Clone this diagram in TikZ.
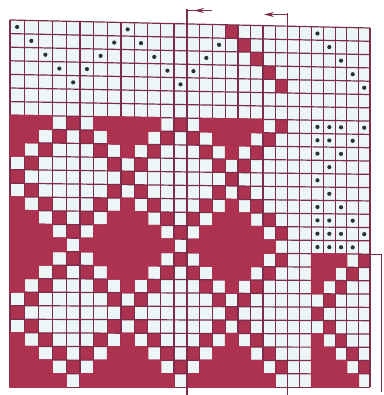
\documentclass[tikz,border=0pt]{standalone}
\usetikzlibrary{arrows.meta}
\definecolor{cred}{RGB}{172,50,80}
\definecolor{cline}{RGB}{125,45,75}
\definecolor{cwhite}{RGB}{236,246,246}
\definecolor{cdot}{RGB}{45,50,55}
\tikzset{
  ringcell/.style={fill=cred},
  solidcell/.style={fill=cred, draw=cred, line width=1.2pt},
  gridline/.style={draw=cline, line width=1.2pt},
  stitchdot/.style={fill=cdot},
  repeatline/.style={draw=cline, line width=1.2pt},
}
\newcommand\cellat[3]{\path[#3] ({gx(#1)},{gy(#2,#1)}) -- ({gx(#1+1)},{gy(#2,#1+1)}) -- ({gx(#1+1)},{gy(#2+1,#1+1)}) -- ({gx(#1)},{gy(#2+1,#1)}) -- cycle;}
\begin{document}
\begin{tikzpicture}[x=1pt,y=-1pt,
  declare function={gx(\k)=10+14.27*(\k)-0.0505*(\k)*(\k);
                    gy(\r,\k)=20+13.6*(\r)+8*(gx(\k)-10)/360*(27-(\r))/27;}]
\useasboundingbox (0,0) rectangle (383,395);
\fill[white] (0,0) rectangle (383,395);
% white grid area
\fill[cwhite] ({gx(0)},{gy(0,0)}) -- ({gx(28)},{gy(0,28)}) -- ({gx(28)},{gy(27,28)}) -- ({gx(0)},{gy(27,0)}) -- cycle;
% ring cells, main area
\foreach \r in {7,...,26}{
  \foreach \c in {0,...,20}{
    \pgfmathtruncatemacro{\u}{mod(\c+4,8)}
    \pgfmathtruncatemacro{\v}{mod(\r+9,10)}
    \pgfmathtruncatemacro{\d}{min(\u,8-\u)+min(\v,10-\v)}
    \ifnum\d=4 \cellat{\c}{\r}{ringcell}\fi
  }
}
% ring cells, right block
\foreach \r in {17,...,26}{
  \foreach \c in {23,...,27}{
    \pgfmathtruncatemacro{\u}{mod(\c+5,8)}
    \pgfmathtruncatemacro{\v}{mod(\r+9,10)}
    \pgfmathtruncatemacro{\d}{min(\u,8-\u)+min(\v,10-\v)}
    \ifnum\d=4 \cellat{\c}{\r}{ringcell}\fi
  }
}
% red diagonal at top
\foreach \c/\r in {16/0,17/1,18/2,19/3,20/4}{\cellat{\c}{\r}{ringcell}}
% grid lines
\foreach \r in {0,...,27}{\draw[gridline] ({gx(0)},{gy(\r,0)}) -- ({gx(28)},{gy(\r,28)});}
\foreach \k in {0,...,28}{\draw[gridline] ({gx(\k)},{gy(0,\k)}) -- ({gx(\k)},{gy(27,\k)});}
% solid cells
\foreach \r in {7,...,26}{
  \foreach \c in {0,...,20}{
    \pgfmathtruncatemacro{\u}{mod(\c+4,8)}
    \pgfmathtruncatemacro{\v}{mod(\r+9,10)}
    \pgfmathtruncatemacro{\d}{min(\u,8-\u)+min(\v,10-\v)}
    \ifnum\d>5 \cellat{\c}{\r}{solidcell}\fi
  }
}
\foreach \r in {17,...,26}{
  \foreach \c in {23,...,27}{
    \pgfmathtruncatemacro{\u}{mod(\c+5,8)}
    \pgfmathtruncatemacro{\v}{mod(\r+9,10)}
    \pgfmathtruncatemacro{\d}{min(\u,8-\u)+min(\v,10-\v)}
    \ifnum\d>5 \cellat{\c}{\r}{solidcell}\fi
  }
}
% dots
\foreach \c/\r in {0/0,1/1,2/2,3/3,4/4,5/3,6/2,7/1,8/0,9/1,10/2,11/3,12/4,13/3,14/2,15/1,
  23/0,24/1,25/2,26/3,27/4,
  23/7,24/7,25/7,27/7, 23/8,24/8,26/8, 23/9,25/9, 24/10, 23/11, 24/12, 23/13,25/13,
  23/14,24/14,26/14, 23/15,24/15,25/15,27/15, 23/16,24/16,25/16,26/16}{
  \fill[stitchdot] ({gx(\c+0.5)},{gy(\r+0.5,\c+0.5)}) circle[radius=2.1pt];
}
% repeat lines and arrows
\draw[repeatline] ({gx(13)},9) -- ({gx(13)},395);
\draw[repeatline] ({gx(13)},10.5) -- (212,10.5);
\draw[repeatline,{Stealth[length=10pt,width=5pt]}-] (194,10.5) -- (208,10.5);
\draw[repeatline] ({gx(21)},13.5) -- ({gx(21)},395);
\draw[repeatline,-{Stealth[length=10pt,width=5pt]}] ({gx(21)},14.5) -- (264,14.5);
\draw[cline,line width=1.6pt] ({gx(22)},258) -- ({gx(22)},274);
\draw[cline,line width=1pt] ({gx(28)},{gy(17,28)}) -- (381,{gy(17,28)}) -- (381,392);
\end{tikzpicture}
\end{document}
